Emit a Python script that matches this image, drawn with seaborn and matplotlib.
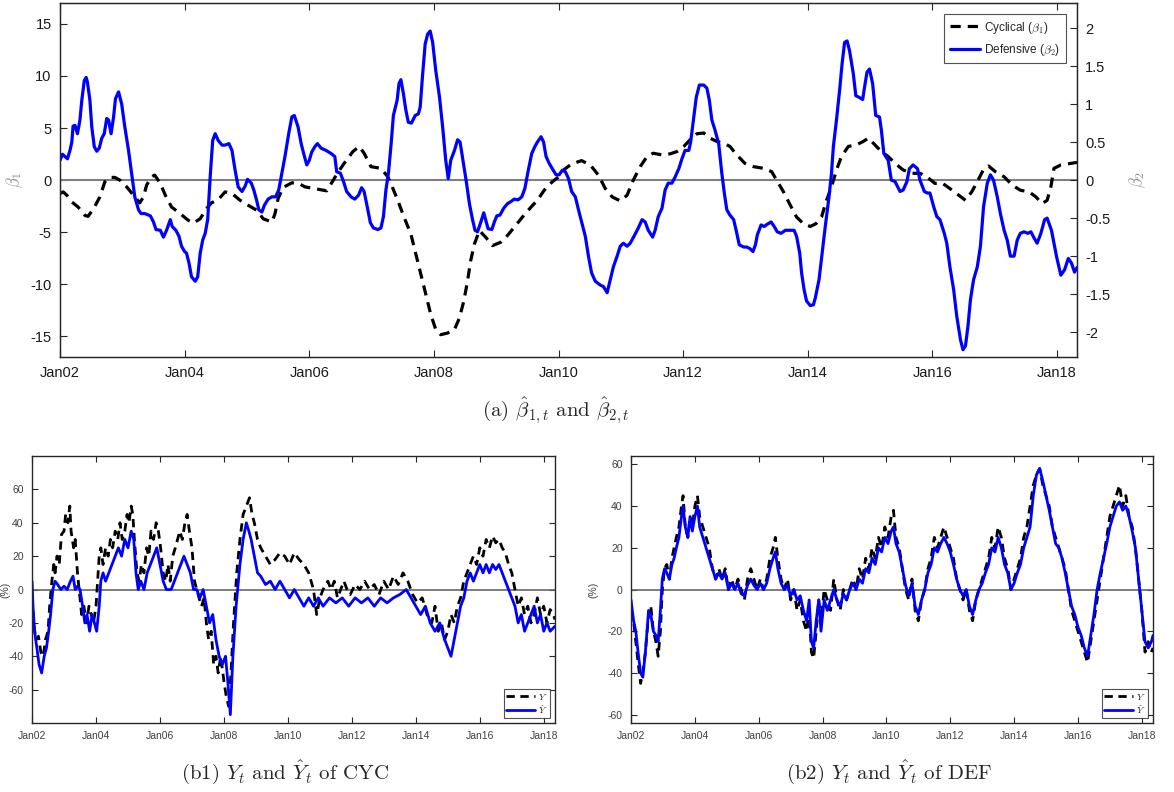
import numpy as np
import pandas as pd
import matplotlib
matplotlib.use("Agg")
import matplotlib.pyplot as plt
import matplotlib.dates as mdates
import seaborn as sns

# ---------------- data (t = years since Jan 2002) ----------------
b1_t = [0, 0.05, 0.11, 0.19, 0.29, 0.40, 0.45, 0.54, 0.64, 0.72, 0.80, 0.88, 0.96, 1.07, 1.18, 1.28, 1.34, 1.39,
        1.47, 1.52, 1.61, 1.69, 1.79, 1.93, 2.06, 2.14, 2.25, 2.35, 2.43, 2.54, 2.65, 2.76, 2.89, 3.02, 3.16, 3.26,
        3.40, 3.45, 3.50, 3.58, 3.72, 3.83, 3.93, 4.16, 4.28, 4.37, 4.45, 4.56, 4.70, 4.80, 4.88, 4.99, 5.15, 5.26,
        5.32, 5.42, 5.52, 5.63, 5.71, 5.79, 5.87, 5.95, 6.03, 6.11, 6.22, 6.33, 6.41, 6.48, 6.54, 6.59, 6.65, 6.73,
        6.83, 6.94, 7.07, 7.18, 7.29, 7.42, 7.56, 7.66, 7.77, 7.90, 8.04, 8.08, 8.21, 8.37, 8.51, 8.64, 8.75, 8.86,
        8.99, 9.10, 9.20, 9.31, 9.42, 9.52, 9.66, 9.79, 9.90, 10.01, 10.11, 10.22, 10.33, 10.43, 10.54, 10.65, 10.75,
        10.86, 10.99, 11.13, 11.29, 11.42, 11.50, 11.61, 11.72, 11.82, 11.93, 12.04, 12.13, 12.22, 12.30, 12.38,
        12.46, 12.54, 12.65, 12.78, 12.89, 12.97, 13.05, 13.18, 13.29, 13.40, 13.53, 13.67, 13.80, 13.91, 14.04,
        14.15, 14.28, 14.42, 14.53, 14.63, 14.72, 14.82, 14.90, 15.01, 15.15, 15.28, 15.41, 15.55, 15.66, 15.76,
        15.84, 15.90, 15.95, 16.06, 16.22, 16.32]
b1_v = [-1.29, -1.13, -1.45, -2.10, -2.58, -3.39, -3.48, -2.74, -1.61, -0.16, 0.26, 0.26, 0.0, -0.65, -1.45, -2.19,
        -1.61, -0.48, 0.32, 0.48, -0.32, -1.45, -2.58, -3.23, -3.87, -4.13, -3.71, -2.74, -2.19, -1.87, -1.13, -1.29,
        -1.94, -2.42, -2.90, -3.71, -4.03, -3.23, -1.77, -0.71, -0.26, -0.32, -0.65, -0.90, -1.03, -0.16, 0.65, 1.61,
        2.74, 3.23, 2.58, 1.29, 1.13, 0.32, -0.48, -1.94, -3.55, -5.16, -7.10, -9.03, -10.97, -12.90, -14.35, -14.84,
        -14.68, -14.35, -13.23, -11.61, -9.68, -7.74, -6.13, -4.84, -5.48, -6.29, -5.97, -5.32, -4.52, -3.55, -2.58,
        -1.94, -0.97, -0.16, 0.48, 0.97, 1.55, 1.87, 1.45, 0.48, -0.81, -1.61, -2.0, -1.45, 0.0, 1.29, 2.26, 2.58,
        2.42, 2.52, 2.74, 3.23, 3.87, 4.45, 4.52, 4.03, 3.71, 3.55, 3.23, 2.42, 1.61, 1.29, 1.13, 0.81, 0.0, -1.13,
        -2.42, -3.55, -4.19, -4.45, -4.19, -3.55, -1.94, -0.65, 0.97, 2.26, 3.23, 3.39, 3.71, 4.03, 3.55, 2.74, 2.26,
        1.61, 0.97, 0.65, 0.65, 0.32, -0.32, -0.26, -0.81, -1.45, -1.94, -1.13, -0.16, 1.03, 1.35, 0.81, 0.32, -0.48,
        -0.97, -1.13, -1.61, -2.26, -1.94, -0.65, 1.13, 1.45, 1.61, 1.70]

b2_t = [0.00, 0.04, 0.08, 0.12, 0.16, 0.19, 0.21, 0.24, 0.28, 0.32, 0.35, 0.39, 0.42, 0.44, 0.48, 0.51, 0.55, 0.59,
        0.63, 0.67, 0.71, 0.75, 0.78, 0.82, 0.86, 0.89, 0.94, 0.99, 1.04, 1.10, 1.15, 1.20, 1.26, 1.30, 1.36, 1.45,
        1.50, 1.54, 1.61, 1.66, 1.71, 1.77, 1.80, 1.86, 1.91, 1.95, 2.00, 2.03, 2.07, 2.11, 2.17, 2.21, 2.25, 2.29,
        2.33, 2.37, 2.41, 2.45, 2.49, 2.54, 2.60, 2.65, 2.71, 2.76, 2.81, 2.86, 2.92, 2.97, 3.01, 3.07, 3.11, 3.16,
        3.19, 3.24, 3.28, 3.34, 3.40, 3.46, 3.51, 3.56, 3.61, 3.67, 3.72, 3.76, 3.82, 3.87, 3.91, 3.96, 4.00, 4.04,
        4.09, 4.13, 4.19, 4.27, 4.35, 4.41, 4.44, 4.50, 4.55, 4.60, 4.67, 4.73, 4.79, 4.84, 4.88, 4.93, 4.98, 5.03,
        5.10, 5.15, 5.19, 5.23, 5.27, 5.31, 5.35, 5.41, 5.44, 5.47, 5.51, 5.55, 5.59, 5.64, 5.70, 5.75, 5.78, 5.82,
        5.86, 5.90, 5.94, 5.98, 6.03, 6.09, 6.14, 6.19, 6.23, 6.27, 6.33, 6.38, 6.42, 6.47, 6.52, 6.57, 6.62, 6.66,
        6.70, 6.75, 6.80, 6.83, 6.87, 6.93, 6.97, 7.01, 7.06, 7.12, 7.18, 7.24, 7.29, 7.35, 7.41, 7.46, 7.51, 7.57,
        7.62, 7.66, 7.72, 7.76, 7.80, 7.85, 7.90, 7.96, 8.01, 8.06, 8.11, 8.16, 8.21, 8.27, 8.32, 8.37, 8.43, 8.48,
        8.53, 8.59, 8.67, 8.72, 8.78, 8.83, 8.88, 8.94, 8.99, 9.04, 9.10, 9.15, 9.21, 9.28, 9.34, 9.39, 9.44, 9.51,
        9.55, 9.60, 9.66, 9.71, 9.76, 9.82, 9.87, 9.93, 9.98, 10.03, 10.09, 10.12, 10.17, 10.21, 10.26, 10.33, 10.38,
        10.42, 10.46, 10.51, 10.57, 10.62, 10.66, 10.70, 10.75, 10.81, 10.85, 10.90, 10.97, 11.02, 11.07, 11.12,
        11.16, 11.19, 11.25, 11.30, 11.35, 11.41, 11.46, 11.51, 11.57, 11.64, 11.72, 11.78, 11.82, 11.87, 11.90,
        11.94, 11.98, 12.04, 12.09, 12.12, 12.18, 12.23, 12.28, 12.34, 12.38, 12.41, 12.46, 12.51, 12.55, 12.59,
        12.63, 12.67, 12.73, 12.77, 12.82, 12.88, 12.91, 12.95, 12.99, 13.04, 13.09, 13.15, 13.18, 13.22, 13.29,
        13.34, 13.40, 13.48, 13.53, 13.59, 13.63, 13.69, 13.76, 13.80, 13.87, 13.92, 13.96, 14.02, 14.07, 14.12,
        14.19, 14.23, 14.28, 14.34, 14.39, 14.45, 14.49, 14.53, 14.57, 14.61, 14.66, 14.72, 14.77, 14.82, 14.88,
        14.93, 14.98, 15.04, 15.09, 15.15, 15.20, 15.25, 15.31, 15.36, 15.41, 15.47, 15.53, 15.58, 15.63, 15.68,
        15.74, 15.80, 15.84, 15.91, 15.95, 15.99, 16.06, 16.12, 16.18, 16.23, 16.28, 16.32]
b2_v = [0.26, 0.34, 0.31, 0.28, 0.39, 0.50, 0.71, 0.72, 0.61, 0.79, 1.05, 1.31, 1.35, 1.29, 1.05, 0.70, 0.44, 0.38,
        0.42, 0.55, 0.61, 0.81, 0.79, 0.61, 0.83, 1.07, 1.16, 1.00, 0.70, 0.39, 0.09, -0.22, -0.39, -0.44, -0.44,
        -0.47, -0.55, -0.65, -0.66, -0.75, -0.66, -0.52, -0.61, -0.66, -0.74, -0.87, -0.94, -0.96, -1.09, -1.27,
        -1.33, -1.27, -0.96, -0.79, -0.70, -0.52, 0.04, 0.52, 0.61, 0.52, 0.46, 0.46, 0.48, 0.39, 0.13, -0.09, -0.15,
        -0.08, 0.01, -0.04, -0.13, -0.28, -0.39, -0.42, -0.33, -0.25, -0.22, -0.22, -0.13, 0.09, 0.31, 0.61, 0.83,
        0.85, 0.70, 0.48, 0.35, 0.20, 0.26, 0.37, 0.44, 0.48, 0.42, 0.39, 0.35, 0.31, 0.11, 0.09, -0.02, -0.15, -0.22,
        -0.25, -0.20, -0.10, -0.15, -0.35, -0.56, -0.63, -0.65, -0.63, -0.48, -0.13, 0.09, 0.44, 0.85, 1.05, 1.27,
        1.32, 1.14, 0.92, 0.76, 0.75, 0.85, 0.87, 0.96, 1.40, 1.79, 1.92, 1.96, 1.81, 1.44, 1.09, 0.70, 0.26, 0.02,
        0.26, 0.39, 0.53, 0.50, 0.24, -0.02, -0.31, -0.52, -0.66, -0.68, -0.56, -0.43, -0.52, -0.64, -0.65, -0.55,
        -0.47, -0.46, -0.37, -0.31, -0.28, -0.25, -0.26, -0.22, -0.11, 0.11, 0.35, 0.44, 0.50, 0.57, 0.50, 0.31,
        0.22, 0.15, 0.07, 0.07, 0.13, 0.11, 0.02, -0.15, -0.22, -0.39, -0.55, -0.74, -1.00, -1.22, -1.33, -1.38,
        -1.40, -1.48, -1.31, -1.14, -1.00, -0.87, -0.83, -0.87, -0.83, -0.74, -0.63, -0.52, -0.55, -0.66, -0.75,
        -0.66, -0.48, -0.37, -0.13, -0.04, -0.04, 0.04, 0.15, 0.28, 0.39, 0.39, 0.50, 0.83, 1.09, 1.25, 1.25, 1.21,
        1.05, 0.79, 0.66, 0.48, 0.09, -0.17, -0.39, -0.46, -0.52, -0.66, -0.85, -0.88, -0.88, -0.90, -0.94, -0.85,
        -0.72, -0.59, -0.61, -0.58, -0.55, -0.61, -0.68, -0.70, -0.66, -0.66, -0.66, -0.74, -0.96, -1.22, -1.44,
        -1.59, -1.65, -1.64, -1.55, -1.31, -0.96, -0.61, -0.22, 0.09, 0.44, 0.79, 1.18, 1.53, 1.81, 1.83, 1.70, 1.40,
        1.11, 1.09, 1.06, 1.22, 1.42, 1.46, 1.27, 0.85, 0.83, 0.66, 0.35, 0.26, 0.00, -0.02, -0.15, -0.13, -0.02,
        0.15, 0.20, 0.15, 0.00, -0.15, -0.17, -0.17, -0.35, -0.48, -0.52, -0.70, -0.83, -1.14, -1.44, -1.79, -2.10,
        -2.23, -2.18, -1.92, -1.57, -1.31, -1.14, -0.87, -0.35, -0.04, 0.07, 0.00, -0.22, -0.44, -0.66, -0.79, -1.00,
        -1.00, -0.79, -0.70, -0.68, -0.70, -0.68, -0.76, -0.83, -0.70, -0.52, -0.50, -0.66, -0.83, -1.00, -1.25,
        -1.18, -1.03, -1.09, -1.21, -1.15]

# CYC panel: realised Y and fitted Y-hat (%)
cyc_y_t = [0.00, 0.05, 0.12, 0.20, 0.28, 0.35, 0.42, 0.50, 0.55, 0.62, 0.68, 0.72, 0.78, 0.85, 0.92, 1.00, 1.05,
           1.12, 1.18, 1.22, 1.30, 1.35, 1.42, 1.50, 1.55, 1.62, 1.70, 1.78, 1.85, 1.92, 2.00, 2.05, 2.10, 2.15,
           2.22, 2.30, 2.38, 2.45, 2.52, 2.60, 2.68, 2.75, 2.82, 2.90, 2.97, 3.03, 3.10, 3.15, 3.20, 3.28, 3.35,
           3.42, 3.50, 3.58, 3.65, 3.72, 3.80, 3.88, 3.95, 4.02, 4.10, 4.18, 4.25, 4.32, 4.40, 4.48, 4.55, 4.62,
           4.70, 4.78, 4.85, 4.92, 5.00, 5.08, 5.15, 5.22, 5.30, 5.38, 5.45, 5.52, 5.60, 5.68, 5.75, 5.82, 5.90,
           6.00, 6.08, 6.15, 6.22, 6.30, 6.40, 6.50, 6.60, 6.70, 6.80, 6.88, 6.95, 7.05, 7.15, 7.30, 7.45, 7.60,
           7.75, 7.90, 8.05, 8.20, 8.35, 8.50, 8.65, 8.80, 8.90, 9.00, 9.10, 9.25, 9.35, 9.45, 9.55, 9.65, 9.75,
           9.85, 9.95, 10.10, 10.25, 10.40, 10.55, 10.70, 10.85, 11.00, 11.15, 11.30, 11.45, 11.60, 11.75, 11.90,
           12.05, 12.20, 12.35, 12.50, 12.60, 12.70, 12.80, 12.90, 13.00, 13.10, 13.20, 13.30, 13.40, 13.50, 13.60,
           13.70, 13.80, 13.90, 14.00, 14.10, 14.20, 14.30, 14.40, 14.50, 14.60, 14.70, 14.80, 14.90, 15.00, 15.10,
           15.20, 15.30, 15.40, 15.50, 15.60, 15.70, 15.80, 15.90, 16.00, 16.10, 16.20, 16.30, 16.35]
cyc_y_v = [-5, -20, -30, -28, -38, -40, -30, -25, -10, 5, 15, 10, 20, 15, 33, 35, 45, 40, 50, 35, 25, 30, 10, -5,
           -15, -10, -20, -10, -15, -20, -10, 5, 20, 25, 15, 25, 20, 30, 25, 35, 30, 40, 30, 35, 45, 40, 50, 45, 30,
           10, 5, 15, 10, 25, 20, 35, 30, 40, 35, 25, 10, 5, 15, 5, 20, 25, 30, 35, 30, 40, 45, 35, 25, 5, 0, -5,
           -10, -5, -20, -30, -25, -45, -40, -50, -40, -55, -65, -70, -50, -20, 10, 30, 45, 50, 55, 45, 40, 30, 25,
           20, 15, 18, 22, 20, 15, 22, 18, 15, 10, 0, -15, -5, 0, 5, 0, 5, -5, 0, 5, 0, -3, 3, 0, 5, 0, 3, -3, 5, 0,
           8, 3, 10, 5, -3, -8, -5, -15, -20, -10, -25, -20, -30, -25, -15, -20, -10, -5, 5, 10, 15, 20, 15, 25,
           20, 30, 25, 32, 28, 30, 25, 22, 15, 10, 0, -10, -5, -15, -10, -20, -15, -5, -15, -10, -20, -12, -15, -18]
cyc_f_t = [0.00, 0.03, 0.08, 0.15, 0.22, 0.30, 0.38, 0.45, 0.52, 0.58, 0.65, 0.72, 0.80, 0.90, 1.00, 1.10, 1.20,
           1.28, 1.35, 1.42, 1.50, 1.58, 1.65, 1.72, 1.80, 1.88, 1.95, 2.02, 2.10, 2.15, 2.22, 2.30, 2.40, 2.50,
           2.60, 2.70, 2.80, 2.90, 3.00, 3.10, 3.18, 3.25, 3.32, 3.40, 3.50, 3.60, 3.70, 3.80, 3.90, 4.00, 4.10,
           4.20, 4.35, 4.45, 4.55, 4.65, 4.75, 4.85, 4.95, 5.05, 5.15, 5.25, 5.35, 5.45, 5.55, 5.65, 5.75, 5.85,
           5.95, 6.05, 6.12, 6.20, 6.28, 6.38, 6.50, 6.60, 6.70, 6.78, 6.85, 6.95, 7.05, 7.15, 7.30, 7.45, 7.60,
           7.75, 7.90, 8.05, 8.20, 8.35, 8.50, 8.65, 8.80, 8.95, 9.10, 9.30, 9.50, 9.70, 9.90, 10.10, 10.30, 10.50,
           10.70, 10.90, 11.10, 11.30, 11.50, 11.70, 11.85, 12.00, 12.15, 12.30, 12.45, 12.60, 12.75, 12.90, 13.00,
           13.10, 13.20, 13.30, 13.40, 13.50, 13.60, 13.70, 13.80, 13.90, 14.00, 14.10, 14.20, 14.30, 14.40, 14.50,
           14.60, 14.70, 14.80, 14.90, 15.00, 15.10, 15.20, 15.30, 15.40, 15.50, 15.60, 15.70, 15.80, 15.90, 16.00,
           16.10, 16.20, 16.35]
cyc_f_v = [5, -10, -25, -35, -45, -50, -40, -35, -25, -15, 0, 5, 3, 0, 2, 0, 5, 8, 0, 2, 0, -10, -20, -15, -25,
           -15, -20, -25, -10, 5, 10, 5, 10, 15, 20, 25, 20, 30, 25, 35, 30, 10, 0, 5, 0, 10, 15, 20, 25, 15, 5, 0,
           0, 5, 10, 15, 20, 15, 10, 0, 0, -5, 0, -10, -20, -15, -30, -40, -45, -40, -55, -75, -40, -10, 15, 30, 40,
           35, 30, 20, 10, 8, 3, 5, 0, 5, 0, -5, 0, -5, -10, -5, -10, -5, -10, -5, -8, -5, -10, -5, -8, -5, -10, -5,
           -8, -5, -3, 0, -5, -10, -15, -10, -20, -25, -20, -30, -35, -40, -30, -20, -10, -5, 5, 10, 5, 10, 15, 10,
           15, 10, 15, 12, 15, 10, 5, 0, -5, -10, -20, -15, -25, -20, -15, -10, -20, -15, -25, -20, -25, -22]

# DEF panel
def_y_t = [0.00, 0.08, 0.15, 0.22, 0.30, 0.37, 0.45, 0.55, 0.62, 0.70, 0.78, 0.85, 0.92, 0.98, 1.05, 1.12, 1.20,
           1.28, 1.35, 1.42, 1.50, 1.58, 1.63, 1.70, 1.78, 1.85, 1.92, 2.00, 2.08, 2.15, 2.25, 2.35, 2.45, 2.55,
           2.65, 2.75, 2.85, 2.95, 3.05, 3.15, 3.25, 3.35, 3.45, 3.55, 3.65, 3.75, 3.85, 3.95, 4.05, 4.15, 4.25,
           4.35, 4.45, 4.52, 4.60, 4.70, 4.80, 4.90, 5.00, 5.10, 5.20, 5.30, 5.40, 5.50, 5.58, 5.65, 5.72, 5.80,
           5.88, 5.95, 6.05, 6.15, 6.25, 6.35, 6.45, 6.55, 6.65, 6.75, 6.85, 6.95, 7.05, 7.15, 7.25, 7.35, 7.45,
           7.55, 7.65, 7.75, 7.85, 7.95, 8.05, 8.15, 8.22, 8.30, 8.40, 8.50, 8.60, 8.70, 8.80, 8.90, 9.00, 9.10,
           9.20, 9.30, 9.40, 9.50, 9.60, 9.70, 9.80, 9.90, 10.00, 10.10, 10.20, 10.30, 10.40, 10.50, 10.60, 10.70,
           10.80, 10.90, 11.00, 11.10, 11.20, 11.30, 11.40, 11.50, 11.60, 11.70, 11.80, 11.90, 12.00, 12.10, 12.20,
           12.30, 12.40, 12.50, 12.60, 12.70, 12.80, 12.90, 13.00, 13.10, 13.20, 13.30, 13.40, 13.50, 13.60, 13.70,
           13.80, 13.90, 14.00, 14.10, 14.20, 14.30, 14.40, 14.50, 14.60, 14.70, 14.80, 14.90, 15.00, 15.10, 15.20,
           15.30, 15.40, 15.50, 15.60, 15.70, 15.80, 15.90, 16.00, 16.10, 16.20, 16.30, 16.35]
def_y_v = [-10, -15, -25, -35, -45, -40, -30, -12, -8, -20, -25, -32, -20, 0, 10, 12, 5, 15, 20, 25, 30, 40, 45,
           30, 25, 35, 30, 40, 45, 35, 30, 25, 20, 10, 5, 10, 5, 10, 0, 5, 0, 5, 0, -5, 5, 10, 5, 0, 5, 0, 5, 15, 20,
           25, 15, 5, 0, 5, -5, 0, -10, -5, -15, -20, -10, -30, -33, -20, -5, -15, 0, -5, -10, 5, -5, -10, 0, -5, 0,
           5, 0, 10, 5, 15, 10, 20, 15, 25, 20, 30, 25, 35, 38, 25, 20, 10, 0, -5, 5, -10, -15, -5, 0, 10, 15, 25,
           20, 25, 30, 25, 20, 15, 5, 0, -5, 0, -10, -15, -5, 0, 5, 10, 15, 25, 20, 30, 25, 15, 10, 0, 5, 10, 15, 25,
           30, 40, 50, 55, 58, 50, 45, 40, 30, 25, 20, 15, 10, 0, -10, -15, -20, -25, -30, -35, -25, -15, -5, 5, 15,
           25, 35, 40, 45, 50, 40, 45, 35, 30, 20, 5, -10, -30, -25, -30, -28]
def_f_t = def_y_t
def_f_v = [-5, -15, -20, -30, -40, -42, -30, -10, -12, -20, -22, -25, -10, 5, 10, 8, 5, 12, 15, 20, 25, 35, 40, 30,
           25, 35, 28, 35, 40, 30, 25, 20, 15, 10, 5, 8, 5, 8, 0, 3, 0, 3, -2, -3, 2, 5, 2, 0, 3, 0, 3, 10, 15, 18,
           10, 3, 0, 2, -3, 0, -5, -3, -10, -15, -5, -25, -28, -15, -5, -20, -5, -10, -5, 0, -5, -8, -2, -5, 0, 3,
           0, 5, 3, 10, 8, 15, 12, 20, 18, 25, 22, 28, 30, 22, 18, 10, 2, -3, 3, -8, -12, -5, 0, 8, 12, 20, 18, 22,
           25, 22, 18, 12, 5, 0, -3, 0, -8, -12, -5, 0, 3, 8, 12, 20, 18, 25, 20, 12, 8, 0, 3, 8, 12, 20, 25, 30, 45,
           55, 58, 52, 45, 38, 30, 22, 20, 15, 8, 0, -8, -12, -18, -22, -28, -32, -22, -12, 0, 8, 15, 22, 30, 35, 40,
           42, 38, 40, 35, 28, 20, 5, -10, -25, -28, -25, -22]

beta_ticks_left = [-15, -10, -5, 0, 5, 10, 15]
beta_ticks_right = [-2, -1.5, -1, -0.5, 0, 0.5, 1, 1.5, 2]
pct_ticks = [-60, -40, -20, 0, 20, 40, 60]
year_ticks = list(range(2002, 2019, 2))

# ---------------- helpers ----------------
base = pd.Timestamp("2002-01-01")
def to_dates(t):
    return base + pd.to_timedelta(np.asarray(t) * 365.25, unit="D")

sns.set_style("ticks")
plt.rcParams["font.family"] = ["Liberation Sans", "DejaVu Sans"]
plt.rcParams["mathtext.fontset"] = "cm"
plt.rcParams["axes.unicode_minus"] = False

fig = plt.figure(figsize=(11.74, 7.92), dpi=100)

def style_axis(ax, fs, color):
    ax.tick_params(direction="in", length=5, width=0.8, labelsize=fs, colors="#262626",
                   labelcolor=color, top=True, right=True, pad=6)
    for s in ax.spines.values():
        s.set_linewidth(1.0)
        s.set_color("#262626")
    ax.set_xticks([pd.Timestamp(f"{y}-01-01") for y in year_ticks])
    ax.xaxis.set_major_formatter(mdates.DateFormatter("Jan%y"))
    ax.grid(False)

# ---------------- top panel ----------------
ax = fig.add_axes([0.0511, 0.549, 0.8663, 0.4472])
ax2 = ax.twinx()
dfa = pd.DataFrame({"date": to_dates(b1_t), "v": b1_v})
dfb = pd.DataFrame({"date": to_dates(b2_t), "v": b2_v})
ax.axhline(0, color="#7f7f7f", lw=1.5, zorder=1)
sns.lineplot(data=dfa, x="date", y="v", ax=ax, color="black", lw=2.3, estimator=None,
             linestyle=(0, (3.2, 2.2)), label="Cyclical ($\\beta_1$)", legend=False)
sns.lineplot(data=dfb, x="date", y="v", ax=ax2, color="#0000ff", lw=2.3, estimator=None,
             label="Defensive ($\\beta_2$)", legend=False)
ax.set_ylim(-17, 17)
ax2.set_ylim(-17 / 7.3, 17 / 7.3)
ax.set_xlim(to_dates([0])[0], to_dates([16.32])[0])
style_axis(ax, 10.5, "#1a1a1a")
ax.tick_params(right=False)
ax2.tick_params(direction="in", length=5, width=0.8, labelsize=10.5, labelcolor="#1a1a1a", pad=6)
ax.set_yticks(beta_ticks_left)
ax.set_yticklabels([str(v) for v in beta_ticks_left])
ax2.set_yticks(beta_ticks_right)
ax2.set_yticklabels([f"{v:g}" for v in beta_ticks_right])
ax.set_xlabel("")
ax.set_ylabel("$\\beta_1$", color="#8c8c8c", fontsize=12, labelpad=4)
ax2.set_ylabel("$\\beta_2$", color="#8c8c8c", fontsize=12, labelpad=12)
ax2.set_xlabel("")
h1, l1 = ax.get_legend_handles_labels()
h2, l2 = ax2.get_legend_handles_labels()
leg = ax2.legend(h1 + h2, l1 + l2, loc="upper right", bbox_to_anchor=(0.991, 0.975), fontsize=8.5,
                 frameon=True, fancybox=False, edgecolor="#262626", handlelength=2.6,
                 borderpad=0.45, labelspacing=0.55, handletextpad=0.3, borderaxespad=0.2)
leg.get_frame().set_linewidth(0.8)

# ---------------- bottom panels ----------------
def bottom(rect, yt, yv, ft, fv, ylim, label_x):
    a = fig.add_axes(rect)
    a.axhline(0, color="#666666", lw=1.2, zorder=1)
    d1 = pd.DataFrame({"date": to_dates(yt), "v": yv})
    d2 = pd.DataFrame({"date": to_dates(ft), "v": fv})
    sns.lineplot(data=d1, x="date", y="v", ax=a, color="black", lw=2.0, estimator=None,
                 linestyle=(0, (3.0, 2.0)), label="$Y$", legend=False)
    sns.lineplot(data=d2, x="date", y="v", ax=a, color="#0000ff", lw=2.0, estimator=None,
                 label="$\\hat{Y}$", legend=False)
    a.set_ylim(*ylim)
    a.set_xlim(to_dates([0])[0], to_dates([16.35])[0])
    style_axis(a, 7.5, "#404040")
    a.tick_params(length=4)
    a.set_yticks(pct_ticks)
    a.set_yticklabels([str(v) for v in pct_ticks])
    a.set_xlabel("")
    a.set_ylabel("(%)", fontsize=7.5, color="#404040")
    a.yaxis.set_label_coords(label_x, 0.5)
    lg = a.legend(loc="lower right", fontsize=7, frameon=True, fancybox=False, edgecolor="#262626",
                  handlelength=3.0, borderpad=0.25, labelspacing=0.15, handletextpad=0.3,
                  borderaxespad=0.5)
    lg.get_frame().set_linewidth(0.8)
    return a

bottom([0.0273, 0.0871, 0.4454, 0.3371], cyc_y_t, cyc_y_v, cyc_f_t, cyc_f_v, (-80, 80), -0.042)
bottom([0.5375, 0.0871, 0.4446, 0.3371], def_y_t, def_y_v, def_f_t, def_f_v, (-64, 64), -0.062)

# ---------------- captions ----------------
cap = dict(fontsize=15, family="cmr10", ha="center", va="center")
fig.text(0.473, 0.482, "(a) $\\hat{\\beta}_{1,t}$ and $\\hat{\\beta}_{2,t}$", **cap)
fig.text(0.243, 0.025, "(b1) $Y_t$ and $\\hat{Y}_t$ of CYC", **cap)
fig.text(0.757, 0.025, "(b2) $Y_t$ and $\\hat{Y}_t$ of DEF", **cap)

fig.savefig("out.png", dpi=100)
